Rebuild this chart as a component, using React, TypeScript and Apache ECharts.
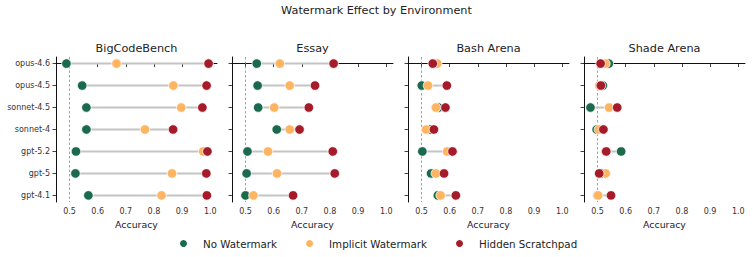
import React, { useEffect, useRef } from "react";
import * as echarts from "echarts";

const models = ["opus-4.6", "opus-4.5", "sonnet-4.5", "sonnet-4", "gpt-5.2", "gpt-5", "gpt-4.1"];
const environments = ["BigCodeBench", "Essay", "Bash Arena", "Shade Arena"];
const conditions = ["No Watermark", "Implicit Watermark", "Hidden Scratchpad"];
const xTicks = [0.5, 0.6, 0.7, 0.8, 0.9, 1.0];

const bigCodeNo = [0.489, 0.545, 0.56, 0.56, 0.523, 0.521, 0.567];
const bigCodeImplicit = [0.667, 0.869, 0.897, 0.768, 0.975, 0.864, 0.827];
const bigCodeHidden = [0.994, 0.987, 0.972, 0.868, 0.99, 0.986, 0.988];

const essayNo = [0.54, 0.543, 0.545, 0.611, 0.507, 0.504, 0.5];
const essayImplicit = [0.622, 0.657, 0.602, 0.657, 0.58, 0.612, 0.528];
const essayHidden = [0.813, 0.747, 0.725, 0.692, 0.81, 0.817, 0.669];

const bashNo = [0.548, 0.501, 0.56, 0.53, 0.503, 0.534, 0.558];
const bashImplicit = [0.556, 0.523, 0.551, 0.516, 0.591, 0.551, 0.568];
const bashHidden = [0.54, 0.59, 0.585, 0.544, 0.61, 0.58, 0.622];

const shadeNo = [0.54, 0.519, 0.475, 0.497, 0.584, 0.515, 0.5];
const shadeImplicit = [0.528, 0.506, 0.541, 0.505, 0.528, 0.529, 0.502];
const shadeHidden = [0.511, 0.512, 0.57, 0.521, 0.531, 0.506, 0.548];

const panelData = [
  [bigCodeNo, bigCodeImplicit, bigCodeHidden],
  [essayNo, essayImplicit, essayHidden],
  [bashNo, bashImplicit, bashHidden],
  [shadeNo, shadeImplicit, shadeHidden],
];

const colors = ["#1c6a4e", "#feb461", "#a51b2a"];
const FONT = "DejaVu Sans";
const X_MIN = 0.452;
const X_MAX = 1.024;
const Y_MIN = -0.3;
const Y_MAX = 6.3;

export default function App() {
  const ref = useRef<HTMLDivElement>(null);
  useEffect(() => {
    if (!ref.current) return;
    const chart = echarts.init(ref.current, null, { renderer: "svg" });
    const gridLefts = [56, 232, 408, 584];
    const gridW = 161;
    const gridTop = 57;
    const gridH = 145;

    const grids = gridLefts.map((l) => ({
      left: l,
      top: gridTop,
      width: gridW,
      height: gridH,
      containLabel: false,
      outerBoundsMode: "none",
    }));

    const xAxes = gridLefts.map((_, i) => ({
      type: "value",
      gridIndex: i,
      min: X_MIN,
      max: X_MAX,
      name: "Accuracy",
      nameLocation: "middle",
      nameGap: 15,
      nameTextStyle: { fontFamily: FONT, fontSize: 9.4, color: "#222" },
      axisLine: { show: true, lineStyle: { color: "#111", width: 1 } },
      axisTick: { show: true, length: 3.5, customValues: xTicks, lineStyle: { color: "#111", width: 0.8 } },
      axisLabel: {
        customValues: xTicks,
        margin: 5,
        fontFamily: FONT,
        fontSize: 8,
        color: "#333",
        formatter: (v: number) => v.toFixed(1),
      },
      splitLine: { show: false },
    }));

    const yIdx = models.map((_, i) => i);
    const yAxes = gridLefts.map((_, i) => ({
      type: "value",
      gridIndex: i,
      min: Y_MIN,
      max: Y_MAX,
      inverse: true,
      axisLine: { show: true, lineStyle: { color: "#111", width: 1 } },
      axisTick: { show: true, length: 3.5, customValues: yIdx, lineStyle: { color: "#111", width: 0.8 } },
      axisLabel: {
        show: i === 0,
        customValues: yIdx,
        margin: 6,
        fontFamily: FONT,
        fontSize: 8,
        color: "#333",
        formatter: (v: number) => models[Math.round(v)] ?? "",
      },
      splitLine: { show: false },
    }));

    const series: any[] = [];
    panelData.forEach((sets, p) => {
      // reference dashed line at 0.5
      series.push({
        type: "custom",
        xAxisIndex: p,
        yAxisIndex: p,
        z: 1,
        silent: true,
        data: [[0.5]],
        encode: { x: 0 },
        renderItem: (_params: any, api: any) => {
          const a = api.coord([api.value(0), Y_MIN]);
          const b = api.coord([api.value(0), Y_MAX]);
          return {
            type: "line",
            shape: { x1: a[0], y1: a[1], x2: b[0], y2: b[1] },
            style: { stroke: "#888", lineWidth: 0.8, lineDash: [2.5, 2] },
          };
        },
      });
      // connecting range lines
      const ranges = models.map((_, i) => {
        const vals = [sets[0][i], sets[1][i], sets[2][i]];
        return [Math.min(...vals), Math.max(...vals), i];
      });
      series.push({
        type: "custom",
        xAxisIndex: p,
        yAxisIndex: p,
        z: 2,
        silent: true,
        data: ranges,
        encode: { x: [0, 1], y: 2 },
        renderItem: (_params: any, api: any) => {
          const a = api.coord([api.value(0), api.value(2)]);
          const b = api.coord([api.value(1), api.value(2)]);
          return {
            type: "line",
            shape: { x1: a[0], y1: a[1], x2: b[0], y2: b[1] },
            style: { stroke: "#c4c4c4", lineWidth: 2 },
          };
        },
      });
      sets.forEach((vals, c) => {
        series.push({
          type: "scatter",
          name: conditions[c],
          xAxisIndex: p,
          yAxisIndex: p,
          z: 3 + c,
          symbol: "circle",
          symbolSize: 9.5,
          itemStyle: { color: colors[c], borderColor: "#fff", borderWidth: 0.8, opacity: 1 },
          data: vals.map((v, i) => [v, i]),
        });
      });
    });

    const panelTitles = environments.map((name, i) => ({
      type: "text",
      x: gridLefts[i] + gridW / 2,
      y: 48,
      style: {
        text: name,
        fontFamily: FONT,
        fontSize: 11.25,
        fill: "#222",
        textAlign: "center",
        textVerticalAlign: "middle",
      },
    }));

    chart.setOption({
      animation: false,
      backgroundColor: "#fff",
      title: {
        text: "Watermark Effect by Environment",
        left: "center",
        top: 5,
        padding: 0,
        textStyle: { fontFamily: FONT, fontSize: 11.25, fontWeight: "normal", color: "#222" },
      },
      legend: {
        data: conditions,
        left: 178,
        top: 238,
        icon: "circle",
        itemWidth: 9,
        itemHeight: 9,
        itemGap: 27,
        padding: 0,
        textStyle: { fontFamily: FONT, fontSize: 10.3, color: "#222", padding: [0, 0, 0, 10] },
      },
      grid: grids,
      xAxis: xAxes,
      yAxis: yAxes,
      series,
      graphic: panelTitles,
    });
    return () => chart.dispose();
  }, []);
  return <div ref={ref} style={{ width: 753, height: 257, position: "absolute", left: 0, top: 0 }} />;
}
